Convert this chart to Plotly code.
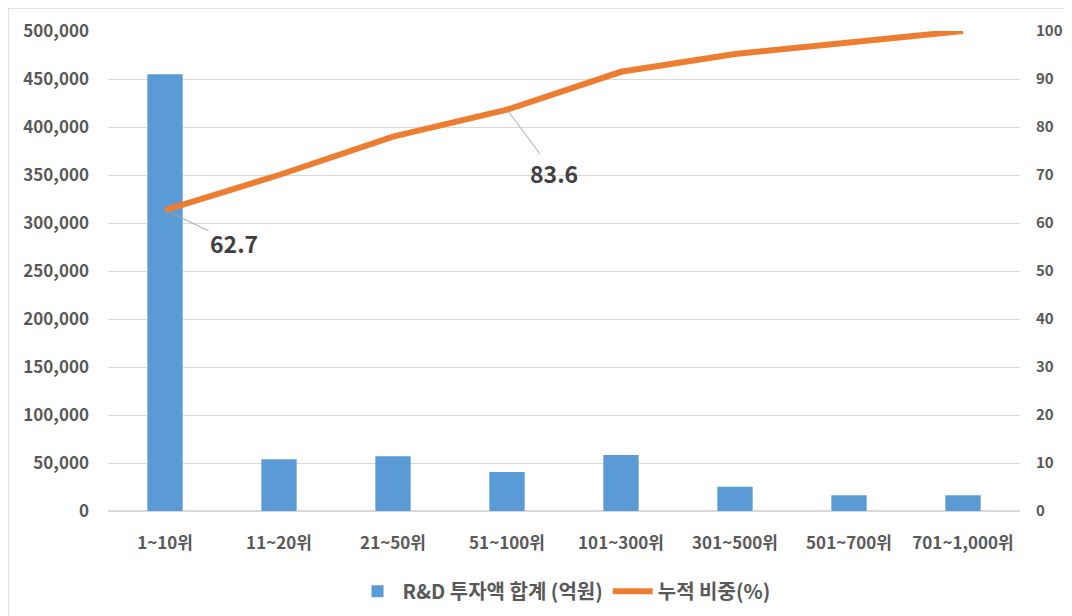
import plotly.graph_objects as go

categories = ["1~10위", "11~20위", "21~50위", "51~100위", "101~300위", "301~500위", "501~700위", "701~1,000위"]
rd_invest = [455000, 54000, 57000, 40600, 58300, 25300, 16300, 16500]
cum_share = [62.7, 70.0, 78.0, 83.6, 91.5, 95.2, 97.6, 100.0]
left_ticks = [0, 50000, 100000, 150000, 200000, 250000, 300000, 350000, 400000, 450000, 500000]
right_ticks = [0, 10, 20, 30, 40, 50, 60, 70, 80, 90, 100]
labelled = {0: (69, 33), 3: (47, 63)}

FONT = "Noto Sans CJK KR"
GRAY = "#595959"

fig = go.Figure()
fig.add_trace(go.Bar(
    x=categories, y=rd_invest, name="R&D 투자액 합계 (억원)",
    marker=dict(color="#5B9BD5", line=dict(width=0)), yaxis="y",
))
fig.add_trace(go.Scatter(
    x=categories, y=cum_share, name="누적 비중(%)", mode="lines",
    line=dict(color="#ED7D31", width=6), yaxis="y2",
))

annotations = []
for i, (ax, ay) in labelled.items():
    annotations.append(dict(
        x=categories[i], y=cum_share[i], xref="x", yref="y2",
        text=f"<b>{cum_share[i]}</b>", showarrow=True, arrowhead=0,
        arrowwidth=1, arrowcolor="#A6A6A6", ax=ax, ay=ay,
        font=dict(family=FONT, size=23, color="#404040"),
    ))

# page body has an 8px margin, so the figure starts at (8, 8)
W, H = 1064, 608
L, R, T, B = 100, 52, 23, 105
pw, ph = W - L - R, H - T - B
tickfont = dict(family=FONT, size=17, color=GRAY, weight=700)
fig.update_layout(
    width=W, height=H,
    margin=dict(l=L, r=R, t=T, b=B, autoexpand=False),
    paper_bgcolor="white", plot_bgcolor="white",
    font=dict(family=FONT, color=GRAY, size=14),
    bargap=0.69,
    showlegend=True,
    legend=dict(orientation="h", x=0.5, xanchor="center", y=-0.167, yanchor="middle",
                itemwidth=40, tracegroupgap=0,
                font=dict(family=FONT, size=20, color=GRAY, weight=700)),
    xaxis=dict(showgrid=False, showline=False, ticks="", tickfont=tickfont,
               ticklabelstandoff=20),
    yaxis=dict(range=[0, 500000], tickvals=left_ticks, tickformat=",",
               showgrid=True, gridcolor="#D9D9D9", gridwidth=1,
               zeroline=True, zerolinecolor="#D9D9D9", showline=False,
               tickfont=tickfont, ticklabelstandoff=18),
    yaxis2=dict(range=[0, 100], tickvals=right_ticks, overlaying="y", side="right",
                showgrid=False, zeroline=False, showline=False,
                tickfont=dict(family=FONT, size=15, color=GRAY, weight=700), ticklabelstandoff=15),
    annotations=annotations,
    shapes=[dict(type="rect", xref="paper", yref="paper",
                 x0=-L / pw, x1=(W - L + 20) / pw,
                 y0=-(B + 20) / ph, y1=1 + T / ph,
                 line=dict(color="#D9D9D9", width=1.5), fillcolor="rgba(0,0,0,0)",
                 layer="below")],
)
fig.write_html("out.html")
